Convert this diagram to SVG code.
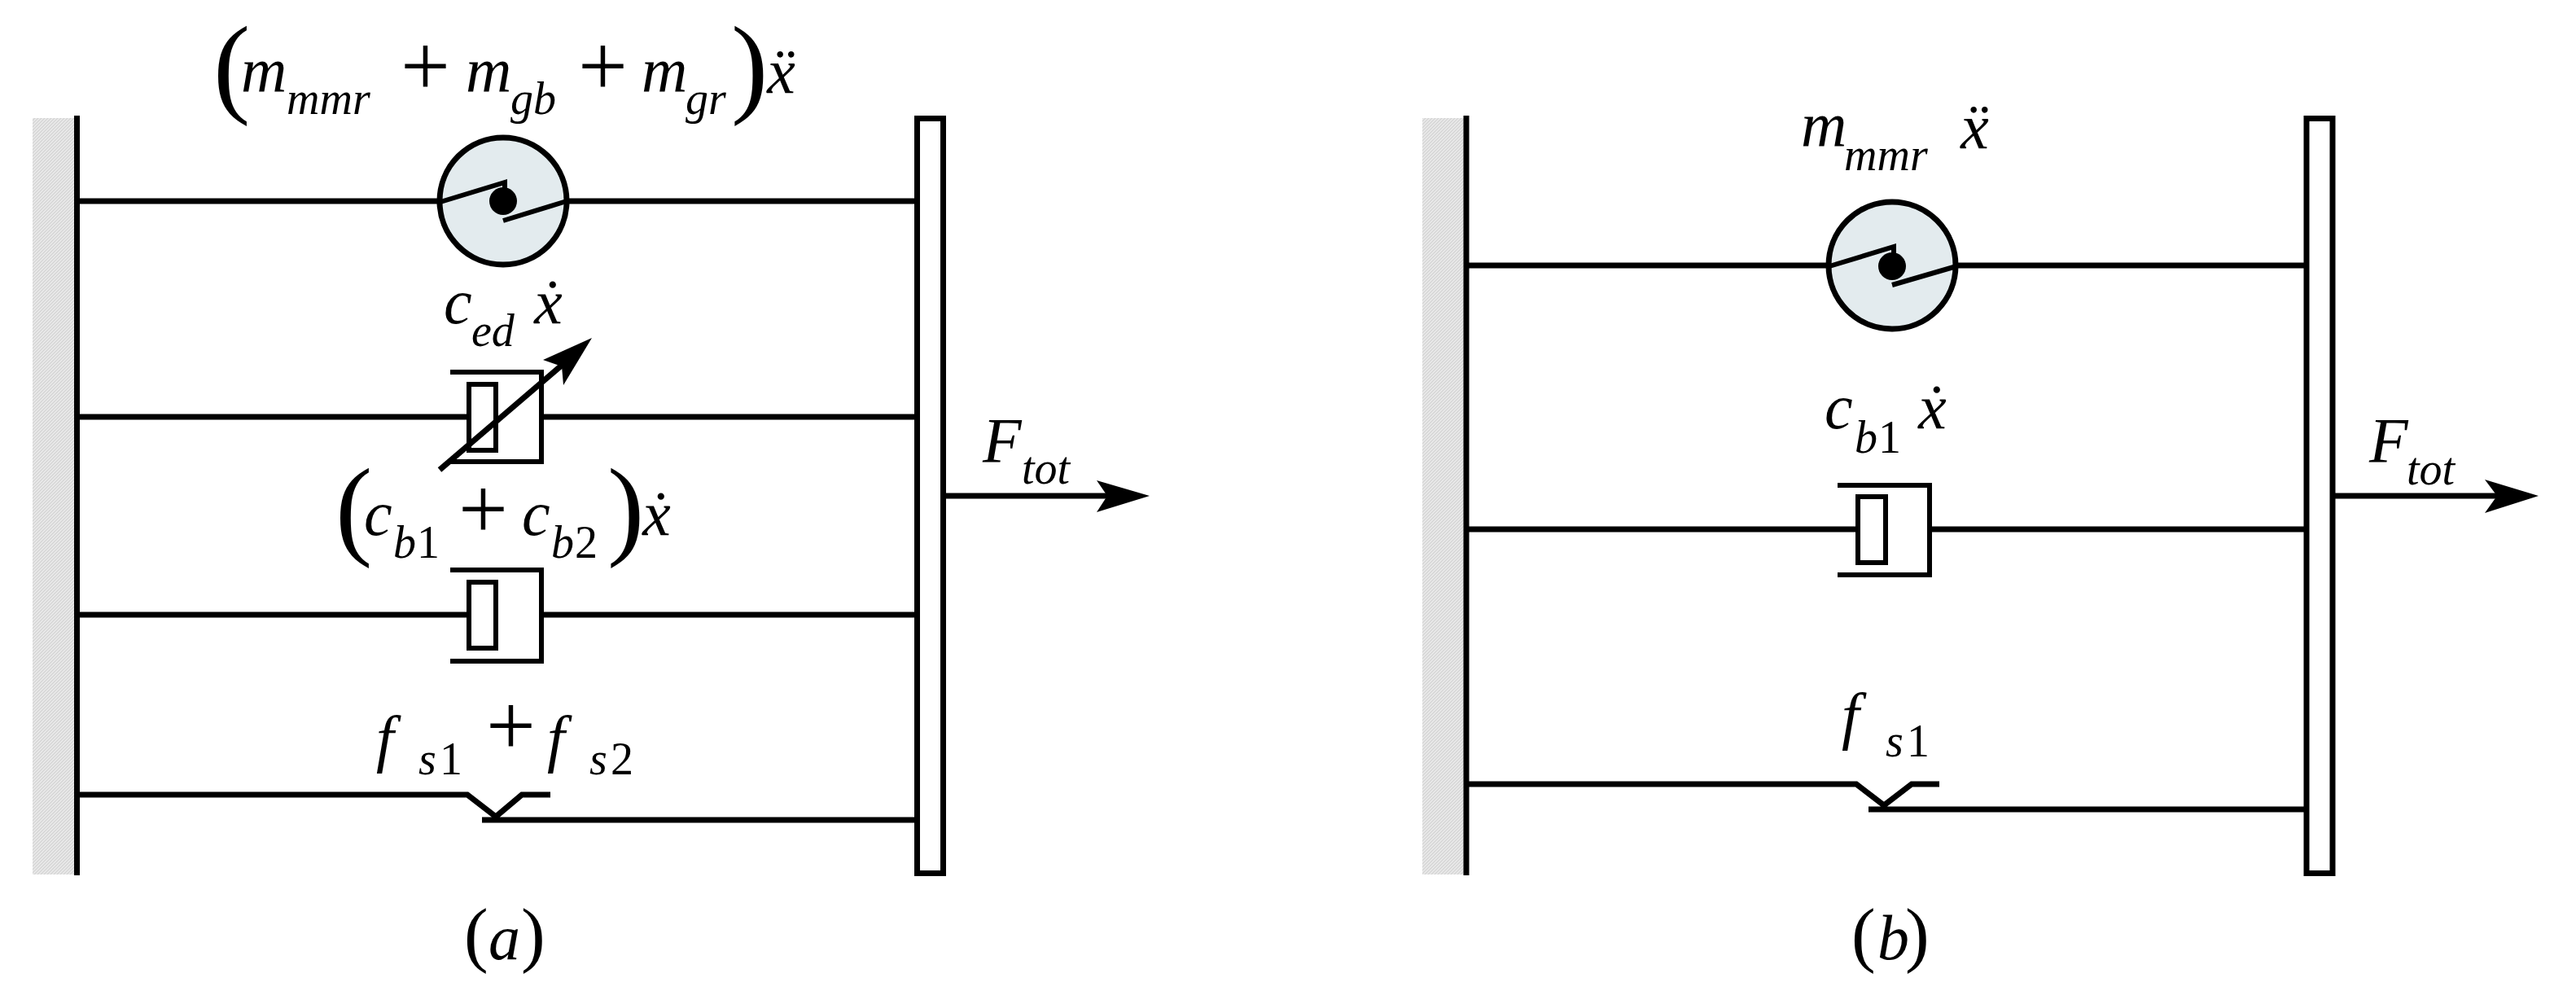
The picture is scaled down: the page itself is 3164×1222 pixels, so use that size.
<svg xmlns="http://www.w3.org/2000/svg" width="3164" height="1222" viewBox="0 0 3164 1222">
<style>
.l{fill:none;stroke:#000;stroke-width:7}
.t{fill:none;stroke:#000;stroke-width:6}
.plate{fill:#fff;stroke:#000;stroke-width:7}
.wheel{fill:#e3ebee;stroke:#000;stroke-width:7}
.wall{fill:url(#h)}
</style>
<defs>
<pattern id="h" width="4" height="4" patternUnits="userSpaceOnUse"><rect width="4" height="4" fill="#ececec"/><path d="M-1 1L1 -1M0 4L4 0M3 5L5 3" stroke="#d4d4d4" stroke-width="1.4"/></pattern>
</defs>
<g id="connectors">
<path class="l" d="M94 247H540M698 247H1126M94 512H576M665 512H1126M94 755H576M665 755H1126M94 976H574L609 1003L641 976H676M592 1007H1126"/>
<path class="l" d="M1801 326H2246M2405 326H2833M1801 650H2280M2370 650H2833M1801 963H2280L2314 989L2348 963H2382M2295 994H2833"/>
<path class="l" d="M1159 609H1362"/>
<path class="l" d="M2865 609H3070"/>
<path d="M1347 590L1412 609L1347 629L1360 609z"/>
<path d="M3052 589L3118 609L3052 630L3067 609z"/>
</g>
<g id="wall-a"><rect class="wall" x="40" y="145" width="52" height="929"/><path class="l" d="M94.500 142V1075"/></g>
<g id="plate-a"><rect class="plate" x="1126.500" y="145.500" width="32" height="927"/></g>
<g id="wheel-a"><circle class="wheel" cx="618" cy="247" r="78"/><ellipse cx="618" cy="247" rx="17" ry="17"/><path class="t" d="M541 248L620 224V232M618 271L696 247"/></g>
<g id="damper-ed"><path class="t" d="M553 457H665V567H553"/><rect class="t" x="576" y="472" width="33" height="81"/><path class="l" d="M540 577L700 440"/><path d="M727 415L692 473L690 450L667 442z"/></g>
<g id="damper-a"><path class="t" d="M553 700H665V812H553"/><rect class="t" x="576" y="715" width="33" height="81"/></g>
<g id="wall-b"><rect class="wall" x="1747" y="145" width="51" height="929"/><path class="l" d="M1801 142V1075"/></g>
<g id="plate-b"><rect class="plate" x="2833" y="145.500" width="32" height="927"/></g>
<g id="wheel-b"><circle class="wheel" cx="2324" cy="326" r="78"/><ellipse cx="2324" cy="327" rx="17" ry="17"/><path class="t" d="M2247 327L2326 303V311M2324 350L2403 327"/></g>
<g id="damper-b"><path class="t" d="M2257 596H2370V706H2257"/><rect class="t" x="2282" y="610" width="34" height="81"/></g>
<g id="labels-a">
<text font-family="Liberation Serif" font-size="136" x="262" y="126">(</text>
<text font-family="Liberation Serif" font-style="italic" font-size="78" x="296" y="113">m</text>
<text font-family="Liberation Serif" font-style="italic" font-size="56" x="352" y="140">mmr</text>
<text font-family="Liberation Serif" font-size="108" x="492" y="117">+</text>
<text font-family="Liberation Serif" font-style="italic" font-size="78" x="572" y="113">m</text>
<text font-family="Liberation Serif" font-style="italic" font-size="56" x="627" y="140">gb</text>
<text font-family="Liberation Serif" font-size="108" x="710" y="117">+</text>
<text font-family="Liberation Serif" font-style="italic" font-size="78" x="788" y="113">m</text>
<text font-family="Liberation Serif" font-style="italic" font-size="56" x="842" y="140">gr</text>
<text font-family="Liberation Serif" font-size="136" x="898" y="126">)</text>
<text font-family="Liberation Serif" font-style="italic" font-size="78" x="942" y="114">x&#x308;</text>
<text font-family="Liberation Serif" font-style="italic" font-size="78" x="545" y="397">c</text>
<text font-family="Liberation Serif" font-style="italic" font-size="56" x="579" y="425">ed</text>
<text font-family="Liberation Serif" font-style="italic" font-size="78" x="656" y="397">x&#x307;</text>
<text font-family="Liberation Serif" font-size="136" x="412" y="669">(</text>
<text font-family="Liberation Serif" font-style="italic" font-size="78" x="447" y="657">c</text>
<text font-family="Liberation Serif" font-style="italic" font-size="56" x="483" y="685">b</text>
<text font-family="Liberation Serif" font-size="56" x="512" y="685">1</text>
<text font-family="Liberation Serif" font-size="108" x="563" y="661">+</text>
<text font-family="Liberation Serif" font-style="italic" font-size="78" x="641" y="657">c</text>
<text font-family="Liberation Serif" font-style="italic" font-size="56" x="677" y="685">b</text>
<text font-family="Liberation Serif" font-size="56" x="706" y="685">2</text>
<text font-family="Liberation Serif" font-size="136" x="746" y="669">)</text>
<text font-family="Liberation Serif" font-style="italic" font-size="78" x="789" y="657">x&#x307;</text>
<text font-family="Liberation Serif" font-style="italic" font-size="78" x="462" y="933">f</text>
<text font-family="Liberation Serif" font-style="italic" font-size="56" x="514" y="951">s</text>
<text font-family="Liberation Serif" font-size="56" x="540" y="951">1</text>
<text font-family="Liberation Serif" font-size="108" x="597" y="927">+</text>
<text font-family="Liberation Serif" font-style="italic" font-size="78" x="672" y="933">f</text>
<text font-family="Liberation Serif" font-style="italic" font-size="56" x="724" y="951">s</text>
<text font-family="Liberation Serif" font-size="56" x="750" y="951">2</text>
<text font-family="Liberation Serif" font-style="italic" font-size="78" x="1207" y="567">F</text>
<text font-family="Liberation Serif" font-style="italic" font-size="56" x="1255" y="594">tot</text>
<text font-family="Liberation Serif" font-size="89" x="570" y="1177">(</text>
<text font-family="Liberation Serif" font-style="italic" font-size="78" x="600" y="1178">a</text>
<text font-family="Liberation Serif" font-size="89" x="640" y="1177">)</text>
</g>
<g id="labels-b">
<text font-family="Liberation Serif" font-style="italic" font-size="78" x="2212" y="180">m</text>
<text font-family="Liberation Serif" font-style="italic" font-size="56" x="2265" y="209">mmr</text>
<text font-family="Liberation Serif" font-style="italic" font-size="78" x="2408" y="182">x&#x308;</text>
<text font-family="Liberation Serif" font-style="italic" font-size="78" x="2241" y="526">c</text>
<text font-family="Liberation Serif" font-style="italic" font-size="56" x="2278" y="556">b</text>
<text font-family="Liberation Serif" font-size="56" x="2307" y="556">1</text>
<text font-family="Liberation Serif" font-style="italic" font-size="78" x="2356" y="526">x&#x307;</text>
<text font-family="Liberation Serif" font-style="italic" font-size="78" x="2910" y="567">F</text>
<text font-family="Liberation Serif" font-style="italic" font-size="56" x="2956" y="595">tot</text>
<text font-family="Liberation Serif" font-style="italic" font-size="78" x="2262" y="905">f</text>
<text font-family="Liberation Serif" font-style="italic" font-size="56" x="2316" y="929">s</text>
<text font-family="Liberation Serif" font-size="56" x="2342" y="929">1</text>
<text font-family="Liberation Serif" font-size="89" x="2274" y="1177">(</text>
<text font-family="Liberation Serif" font-style="italic" font-size="78" x="2306" y="1178">b</text>
<text font-family="Liberation Serif" font-size="89" x="2340" y="1177">)</text>
</g>
</svg>
